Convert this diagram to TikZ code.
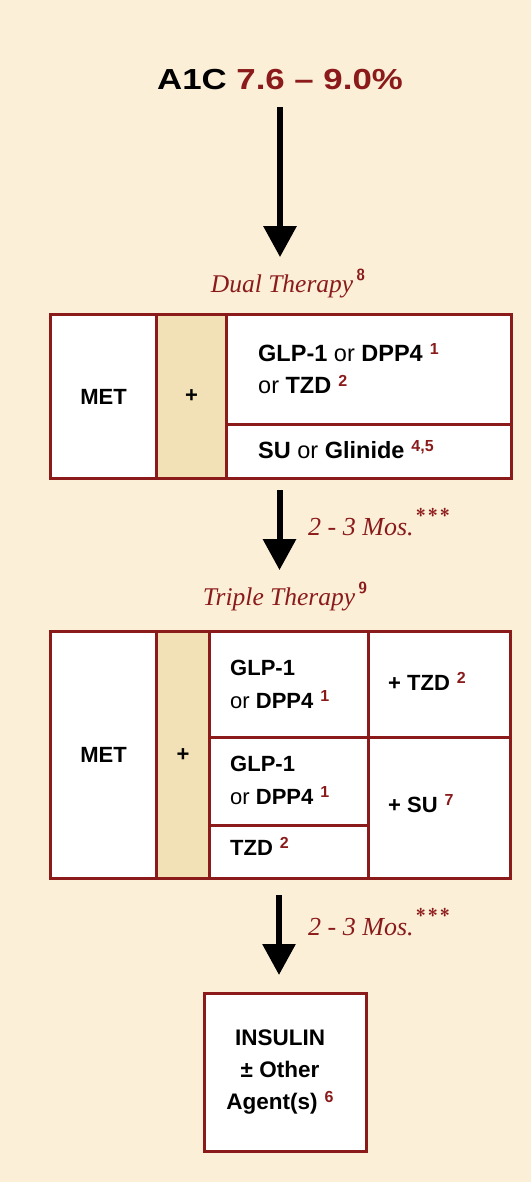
\documentclass[tikz,border=0pt]{standalone}
\usepackage{fontspec}
\setmainfont{Liberation Sans}
\newfontfamily\itfont{Liberation Serif}
\usepackage{graphicx}
\usetikzlibrary{arrows.meta}
\definecolor{dred}{HTML}{8B1B1B}
\definecolor{bgc}{HTML}{FBEFD7}
\definecolor{tanfill}{HTML}{F2E1B6}
\newcommand{\sr}[1]{\hspace{7pt}\smash{\raisebox{7pt}{\fontsize{16}{16}\selectfont\bfseries\color{dred}#1}}}
\newcommand{\isr}[1]{\hspace{3pt}\smash{\raisebox{12pt}{\fontsize{16}{16}\selectfont\sffamily\upshape\bfseries\color{dred}#1}}}
\newcommand{\stars}{\hspace{2pt}\smash{\raisebox{13pt}{\fontsize{19}{19}\selectfont\sffamily\upshape\bfseries *\hspace{1.5pt}*\hspace{1.5pt}*}}}
\newcommand{\B}[1]{\textbf{#1}}
\begin{document}
\begin{tikzpicture}[x=1pt,y=-1pt,
  cell/.style={draw=dred, line width=3pt, fill=white, anchor=north west, inner sep=0pt,
    font=\fontsize{22}{31}\selectfont\bfseries},
  pluscell/.style={cell, fill=tanfill},
  txt/.style={inner sep=0pt, anchor=west, align=left, font=\fontsize{22}{33}\selectfont},
  dtxt/.style={txt, font=\fontsize{23.5}{32}\selectfont},
  itlab/.style={inner sep=0pt, anchor=base, text=dred, font=\itfont\itshape\fontsize{25.5}{25.5}\selectfont},
  moslab/.style={inner sep=0pt, anchor=base west, text=dred, font=\itfont\itshape\fontsize{26}{26}\selectfont},
  bigarrow/.style={line width=6pt, draw=black, -{Triangle[width=32pt,length=31pt]}}
]
\fill[bgc] (0,0) rectangle (531,1182);
\useasboundingbox (0,0) rectangle (531,1182);

% title
\node[inner sep=0pt, anchor=base] (title) at (280,90)
  {\fontsize{29}{29}\selectfont\bfseries\scalebox{1.2}[1]{A1C \textcolor{dred}{7.6 – 9.0\%}}};

% dual therapy
\node[itlab] (dlab) at (288,292) {Dual Therapy\isr{8}};
\node[cell, minimum width=106pt, minimum height=164pt] (dmet) at (49,313) {MET};
\node[pluscell, minimum width=70pt, minimum height=164pt] (dplus) at (155,313) {+};
\node[cell, minimum width=285pt, minimum height=110pt] (dtop) at (225,313) {};
\node[cell, minimum width=285pt, minimum height=54pt] (dbot) at (225,423) {};
\node[dtxt] (dtoptxt) at (258,369) {\B{GLP-1} or \B{DPP4}\sr{1}\\or \B{TZD}\sr{2}};
\node[dtxt] (dbottxt) at (258,450) {\B{SU} or \B{Glinide}\sr{4,5}};
\coordinate (dual) at (279.5,477);

% triple therapy
\node[itlab] (tlab) at (285,605) {Triple Therapy\isr{9}};
\node[cell, minimum width=106pt, minimum height=247pt] (tmet) at (49,630) {MET};
\node[pluscell, minimum width=53pt, minimum height=247pt] (tplus) at (155,630) {+};
\node[cell, minimum width=159pt, minimum height=106pt] (t1) at (208,630) {};
\node[cell, minimum width=142pt, minimum height=106pt] (t2) at (367,630) {};
\node[cell, minimum width=159pt, minimum height=88pt] (t3) at (208,736) {};
\node[cell, minimum width=159pt, minimum height=53pt] (t4) at (208,824) {};
\node[cell, minimum width=142pt, minimum height=141pt] (t5) at (367,736) {};
\node[txt] (t1txt) at (230,684) {\B{GLP-1}\\or \B{DPP4}\sr{1}};
\node[txt] (t2txt) at (388,683) {\B{+ TZD}\sr{2}};
\node[txt] (t3txt) at (230,780) {\B{GLP-1}\\or \B{DPP4}\sr{1}};
\node[txt] (t4txt) at (230,848) {\B{TZD}\sr{2}};
\node[txt] (t5txt) at (388,805) {\B{+ SU}\sr{7}};
\coordinate (triple) at (279,877);

% insulin
\node[cell, minimum width=162pt, minimum height=158pt] (ins) at (203,992) {};
\node[inner sep=0pt, align=center, font=\fontsize{22.5}{32}\selectfont\bfseries] (instxt) at (280,1072)
  {INSULIN\\± Other\\Agent(s)\sr{6}};

% arrows
\draw[bigarrow, shorten <=17pt, shorten >=17pt] (title.south) -- (title.south |- dlab.north);
\draw[bigarrow, shorten <=13pt, shorten >=17pt] (dual) -- (dual |- tlab.north);
\draw[bigarrow, shorten <=18pt, shorten >=17pt] (triple) -- (triple |- ins.north);

\node[moslab] (mos1) at (308,535) {2 - 3 Mos.\stars};
\node[moslab] (mos2) at (308,935) {2 - 3 Mos.\stars};
\end{tikzpicture}
\end{document}
